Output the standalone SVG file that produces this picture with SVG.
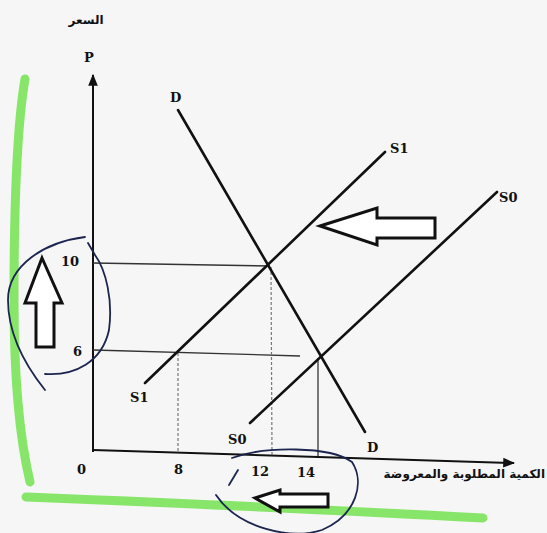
<svg xmlns="http://www.w3.org/2000/svg" width="547" height="533" viewBox="0 0 547 533">
<defs>
<style>
.ax{stroke:#111;stroke-width:2;fill:none}
.cv{stroke:#111;stroke-width:2.6;fill:none;stroke-linecap:round}
.gd{stroke:#333;stroke-width:1.3;fill:none}
.gdd{stroke:#777;stroke-width:1.2;fill:none;stroke-dasharray:3 2}
.ar{stroke:#111;stroke-width:3;fill:#fff;stroke-linejoin:miter}
.pen{stroke:#1c2550;stroke-width:1.8;fill:none;stroke-linecap:round}
.hl{stroke:#7be35a;stroke-width:9;fill:none;stroke-linecap:round;opacity:0.9}
.t{font-family:"DejaVu Serif","Liberation Serif",serif;font-weight:bold;font-size:13px;fill:#111}
.ar-t{font-family:"DejaVu Sans","Noto Sans",sans-serif;font-size:12px;fill:#111;font-weight:bold}
</style>
<marker id="ah" viewBox="0 0 10 10" refX="9" refY="5" markerWidth="6" markerHeight="6" orient="auto"><path d="M0,1 L10,5 L0,9 Z" fill="#111"/></marker>
</defs>
<rect width="547" height="533" fill="#f6f6f6"/>
<g id="highlight">
<path class="hl" d="M25,79 C18,120 14,200 14,300 C14,380 20,440 30,482"/>
<path class="hl" d="M26,497 C150,502 300,508 483,518"/>
</g>
<g id="connectors">
<line class="ax" x1="93" y1="452" x2="93" y2="75" marker-end="url(#ah)"/>
<line class="ax" x1="93" y1="450" x2="514" y2="463" marker-end="url(#ah)"/>
<line class="gd" x1="93" y1="263" x2="270" y2="266"/>
<line class="gd" x1="93" y1="350" x2="300" y2="356"/>
<line class="gdd" x1="178" y1="353" x2="178" y2="452"/>
<line class="gdd" x1="271" y1="267" x2="272" y2="455"/>
<line class="gd" x1="318" y1="358" x2="318" y2="456"/>
</g>
<g id="D"><line class="cv" x1="178" y1="110" x2="365" y2="432"/><text class="t" x="170" y="102">D</text><text class="t" x="367" y="452">D</text></g>
<g id="S1"><line class="cv" x1="145" y1="383" x2="385" y2="152"/><text class="t" x="390" y="153">S1</text><text class="t" x="130" y="402">S1</text></g>
<g id="S0"><line class="cv" x1="250" y1="423" x2="497" y2="192"/><text class="t" x="499" y="202">S0</text><text class="t" x="228" y="444">S0</text></g>
<g id="labels">
<text class="ar-t" x="86" y="24" text-anchor="middle" font-size="13">السعر</text>
<text class="t" x="84" y="62" font-family="Liberation Sans">P</text>
<text class="t" x="61" y="266">10</text>
<text class="t" x="73" y="356">6</text>
<text class="t" x="77" y="474">0</text>
<text class="t" x="174" y="474">8</text>
<text class="t" x="251" y="476">12</text>
<text class="t" x="297" y="477">14</text>
<text class="ar-t" x="545" y="478" text-anchor="end" font-size="11.5">الكمية المطلوبة والمعروضة</text>
</g>
<g id="arrow-up"><path class="ar" d="M42,258 L62,303 L54,303 L54,347 L36,347 L36,303 L25,303 Z"/></g>
<g id="arrow-left-top"><path class="ar" d="M320,226 L377,208 L377,218 L435,218 L435,238 L377,238 L377,245 Z"/></g>
<g id="arrow-left-bottom"><path class="ar" d="M255,498 L280,490 L280,494 L328,494 L328,507 L280,507 L280,512 Z"/></g>
<g id="pen-marks">
<path class="pen" d="M85,237 C45,242 8,265 8,300 C8,335 25,365 45,390"/>
<path class="pen" d="M45,374 C75,376 102,362 109,330 C113,300 106,270 95,255 L88,243"/>
<path class="pen" d="M232,458 C265,446 330,446 352,462 C365,482 357,515 322,530 C290,540 238,528 216,495"/>
<path class="pen" d="M229,485 L238,470"/>
</g>
</svg>
